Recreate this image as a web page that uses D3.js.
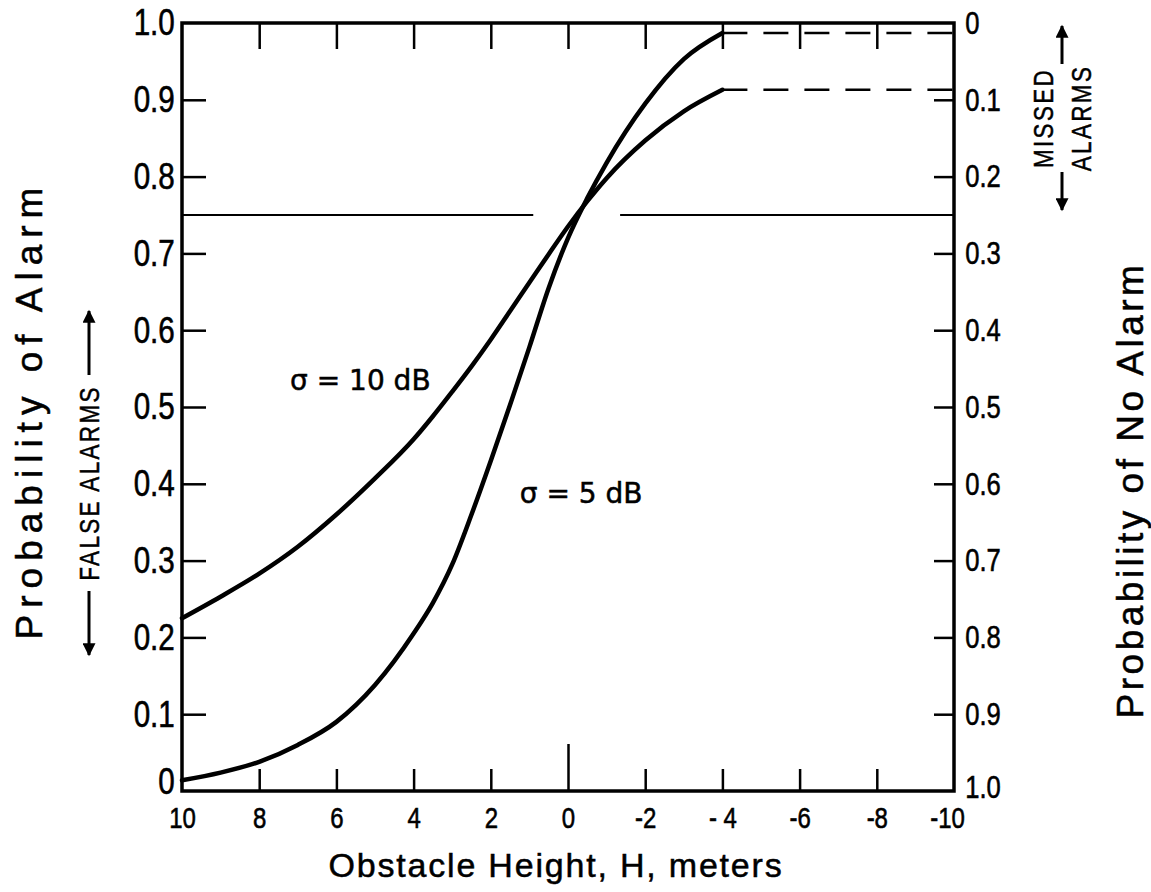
<!DOCTYPE html>
<html><head><meta charset="utf-8">
<script src="https://cdn.jsdelivr.net/npm/d3@7"></script>
<style>
body{margin:0;background:#fff}
.tick text{fill:#000}
</style>
</head><body><svg id="c" width="1151" height="892"></svg>
<script>
// ---- data ----
const heights = [10, 9, 8, 7, 6, 5, 4, 3.5, 3, 2.5, 2, 1.5, 1, 0.5, 0, -0.5, -1, -2, -3, -4];
const sigma10 = [0.225, 0.253, 0.283, 0.318, 0.360, 0.407, 0.458, 0.488, 0.520, 0.553, 0.588, 0.625, 0.662, 0.699, 0.735, 0.768, 0.798, 0.847, 0.885, 0.913];
const sigma5  = [0.014, 0.024, 0.038, 0.060, 0.090, 0.138, 0.205, 0.245, 0.295, 0.360, 0.430, 0.503, 0.578, 0.655, 0.720, 0.772, 0.818, 0.895, 0.953, 0.987];
const xTickValues = [10, 8, 6, 4, 2, 0, -2, -4, -6, -8, -10];
const xTickLabels = ["10", "8", "6", "4", "2", "0", "-2", "- 4", "-6", "-8", "-10"];
const yTickValues = [0, 0.1, 0.2, 0.3, 0.4, 0.5, 0.6, 0.7, 0.8, 0.9, 1.0];
const yTickLabels = ["0", "0.1", "0.2", "0.3", "0.4", "0.5", "0.6", "0.7", "0.8", "0.9", "1.0"];
const noAlarmTickValues = [0, 0.1, 0.2, 0.3, 0.4, 0.5, 0.6, 0.7, 0.8, 0.9, 1.0];
const noAlarmTickLabels = ["0", "0.1", "0.2", "0.3", "0.4", "0.5", "0.6", "0.7", "0.8", "0.9", "1.0"];
const threshold = 0.75;
const thresholdGap = [0.9, -1.35];
const dashEnd = -10;
const curveNames = ["\u03C3 = 10 dB", "\u03C3 = 5 dB"];

// ---- layout ----
const L = 182, R = 954, T = 23, B = 791;
const svg = d3.select("#c");
const x = d3.scaleLinear().domain([10, -10]).range([L, R]);
const y = d3.scaleLinear().domain([0, 1]).range([B, T]);
const yNo = d3.scaleLinear().domain([0, 1]).range([T, B]);
const sans = "'Liberation Sans',Arial,sans-serif";
const wide = "'DejaVu Sans',Verdana,sans-serif";
const SX = 0.8; // horizontal condensing for the narrow lettering

function heavy(sel, w) { return sel.attr("stroke", "#000").attr("stroke-width", w).attr("fill", "#000"); }

// axes
const gb = svg.append("g").attr("transform", `translate(0,${B})`)
  .call(d3.axisBottom(x).tickValues(xTickValues).tickSize(-22).tickPadding(16)
    .tickFormat((d, i) => xTickLabels[i]));
gb.selectAll(".tick line").filter(d => d === 10 || d === -10).remove();
gb.selectAll(".tick line").filter(d => d === 0).attr("y2", -47);
gb.selectAll(".tick text").attr("dy", "0.71em").attr("transform", `scale(${SX},1)`)
  .style("font-family", sans).style("font-size", "30px");
gb.selectAll(".tick text").filter(d => d === -10).attr("x", -7 / SX);

svg.append("g").attr("transform", `translate(0,${T})`)
  .call(d3.axisTop(x).tickValues(xTickValues.slice(1, -1)).tickSize(-26).tickFormat(""));

const gl = svg.append("g").attr("transform", `translate(${L},0)`)
  .call(d3.axisLeft(y).tickValues(yTickValues).tickSize(-24).tickPadding(9)
    .tickFormat((d, i) => yTickLabels[i]));
gl.selectAll(".tick line").filter(d => d === 0 || d === 1).remove();
gl.selectAll(".tick text").attr("transform", `scale(${SX},1)`)
  .style("font-family", sans).style("font-size", "37px");
gl.selectAll(".tick text").filter(d => d === 0).attr("y", -9);

const gr = svg.append("g").attr("transform", `translate(${R},0)`)
  .call(d3.axisRight(yNo).tickValues(noAlarmTickValues).tickSize(-20).tickPadding(14)
    .tickFormat((d, i) => noAlarmTickLabels[i]));
gr.selectAll(".tick line").filter(d => d === 0 || d === 1).remove();
gr.selectAll(".tick text").attr("transform", `scale(${SX},1)`)
  .style("font-family", sans).style("font-size", "32px");
gr.selectAll(".tick text").filter(d => d === 1).attr("y", -4);

svg.selectAll(".domain").remove();
svg.selectAll(".tick line").attr("stroke", "#000").attr("stroke-width", 2.5);
heavy(svg.selectAll(".tick text"), 0.6);

// frame
svg.append("rect").attr("x", L).attr("y", T).attr("width", R - L).attr("height", B - T)
  .attr("fill", "none").attr("stroke", "#000").attr("stroke-width", 3.5);

// threshold line with gap
const segs = [[10, thresholdGap[0]], [thresholdGap[1], -10]];
svg.selectAll(".thr").data(segs).join("line")
  .attr("x1", d => x(d[0])).attr("x2", d => x(d[1]))
  .attr("y1", y(threshold)).attr("y2", y(threshold))
  .attr("stroke", "#000").attr("stroke-width", 2);

// curves
const line = d3.line().x(d => x(d[0])).y(d => y(d[1])).curve(d3.curveMonotoneX);
[sigma10, sigma5].forEach(s => {
  svg.append("path").datum(heights.map((h, i) => [h, s[i]]))
    .attr("d", line).attr("fill", "none").attr("stroke", "#000")
    .attr("stroke-width", 4.5).attr("stroke-linecap", "round");
  const last = heights.length - 1;
  svg.append("line").attr("x1", x(heights[last])).attr("x2", x(dashEnd))
    .attr("y1", y(s[last])).attr("y2", y(s[last]))
    .attr("stroke", "#000").attr("stroke-width", 2.4).attr("stroke-dasharray", "25,16");
});

// curve labels
heavy(svg.append("text").attr("x", x(7.2)).attr("y", y(0.522)).text(curveNames[0])
  .style("font-family", wide).style("font-size", "28px"), 0.5);
heavy(svg.append("text").attr("x", x(1.25)).attr("y", y(0.375)).text(curveNames[1])
  .style("font-family", wide).style("font-size", "28px"), 0.5);

// axis titles
heavy(svg.append("text").attr("transform", `translate(16,410) rotate(-90)`)
  .attr("text-anchor", "middle").attr("dy", "0.71em").text("Probability of Alarm")
  .style("font-family", sans).style("font-size", "37px").style("letter-spacing", "7px"), 0.5);
heavy(svg.append("text").attr("transform", `translate(1143,490) rotate(-90)`)
  .attr("text-anchor", "middle").text("Probability of No Alarm")
  .style("font-family", sans).style("font-size", "37px").style("letter-spacing", "3.5px"), 0.5);
heavy(svg.append("text").attr("x", 556).attr("y", 877).attr("text-anchor", "middle")
  .text("Obstacle Height, H, meters")
  .style("font-family", sans).style("font-size", "34px").style("letter-spacing", "1.8px"), 0.5);

// arrow annotations
svg.append("defs").append("marker").attr("id", "ah").attr("viewBox", "0 0 10 10")
  .attr("refX", 9).attr("refY", 5).attr("markerUnits", "userSpaceOnUse")
  .attr("markerWidth", 17).attr("markerHeight", 13)
  .attr("orient", "auto").append("path").attr("d", "M0,0L10,5L0,10z").attr("fill", "#000");

function arrowLabel(cx, cy, lines, lineGap, halfLen, inset) {
  const g = svg.append("g").attr("transform", `translate(${cx},${cy}) rotate(-90)`);
  lines.forEach((t, i) => {
    heavy(g.append("text").attr("x", 0).attr("y", (i - (lines.length - 1) / 2) * lineGap)
      .attr("dy", "0.36em").attr("text-anchor", "middle").text(t)
      .attr("transform", `scale(${SX},1)`)
      .style("font-family", sans).style("font-size", "28px").style("letter-spacing", "3px"), 0.5);
  });
  g.append("line").attr("x1", -inset).attr("x2", -halfLen).attr("y1", 0).attr("y2", 0)
    .attr("stroke", "#000").attr("stroke-width", 3).attr("marker-end", "url(#ah)");
  g.append("line").attr("x1", inset).attr("x2", halfLen).attr("y1", 0).attr("y2", 0)
    .attr("stroke", "#000").attr("stroke-width", 3).attr("marker-end", "url(#ah)");
}
arrowLabel(89, 483, ["FALSE ALARMS"], 0, 172, 108);
arrowLabel(1062, 118, ["MISSED", "ALARMS"], 38, 92, 54);
</script>
</body></html>
